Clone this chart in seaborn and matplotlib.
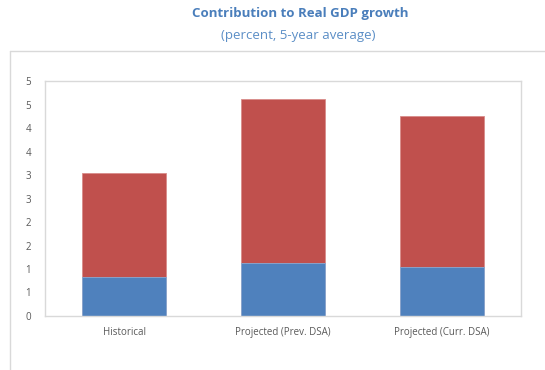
import matplotlib.pyplot as plt
import matplotlib.ticker as mticker
import numpy as np
import pandas as pd
import seaborn as sns

# values
categories = ['Historical', 'Projected (Prev. DSA)', 'Projected (Curr. DSA)']
lower_part = [0.82, 1.13, 1.04]   # blue segment
upper_part = [2.22, 3.48, 3.22]   # red segment
yticks = np.arange(0, 5.01, 0.5)

df = pd.DataFrame({'cat': categories, 'lower': lower_part, 'upper': upper_part})
df['total'] = df['lower'] + df['upper']

sns.set_style('white')
plt.rcParams['font.family'] = ['Open Sans', 'DejaVu Sans']

fig = plt.figure(figsize=(5.45, 3.70), dpi=100)
ax = fig.add_axes([45 / 545, 1 - 316 / 370, 476 / 545, 235 / 370])

# stacked bars: total in red, then the lower part in blue on top of it
sns.barplot(data=df, x='cat', y='total', color='#C0504D', saturation=1,
            width=0.53, edgecolor='#D98C8A', linewidth=0.6, ax=ax)
sns.barplot(data=df, x='cat', y='lower', color='#4F81BD', saturation=1,
            width=0.53, edgecolor='#8AAAD3', linewidth=0.6, ax=ax)

ax.set_ylim(0, 5)
ax.set_xlim(-0.5, 2.5)
ax.set_yticks(yticks)
ax.yaxis.set_major_formatter(mticker.FuncFormatter(lambda v, p: f'{int(np.floor(v + 0.5))}'))
ax.tick_params(axis='both', length=0, labelsize=7, colors='#595959')
ax.tick_params(axis='y', pad=10)
ax.tick_params(axis='x', pad=8)
ax.set_xlabel('')
ax.set_ylabel('')
for s in ax.spines.values():
    s.set_visible(True)
    s.set_color('#D9D9D9')
    s.set_linewidth(1)

# outer chart frame
fig.add_artist(plt.Line2D([10 / 545, 10 / 545], [0, 1 - 51 / 370], color='#D9D9D9', lw=1))
fig.add_artist(plt.Line2D([10 / 545, 1], [1 - 51 / 370, 1 - 51 / 370], color='#D9D9D9', lw=1))

fig.text(300 / 545, 1 - 14 / 370, 'Contribution to Real GDP growth', ha='center', va='center',
         fontsize=9.5, fontweight='bold', color='#4A7EBB')
fig.text(298 / 545, 1 - 35 / 370, '(percent, 5-year average)', ha='center', va='center',
         fontsize=9.5, color='#5B8EC6')

fig.savefig('out.png', dpi=100)
